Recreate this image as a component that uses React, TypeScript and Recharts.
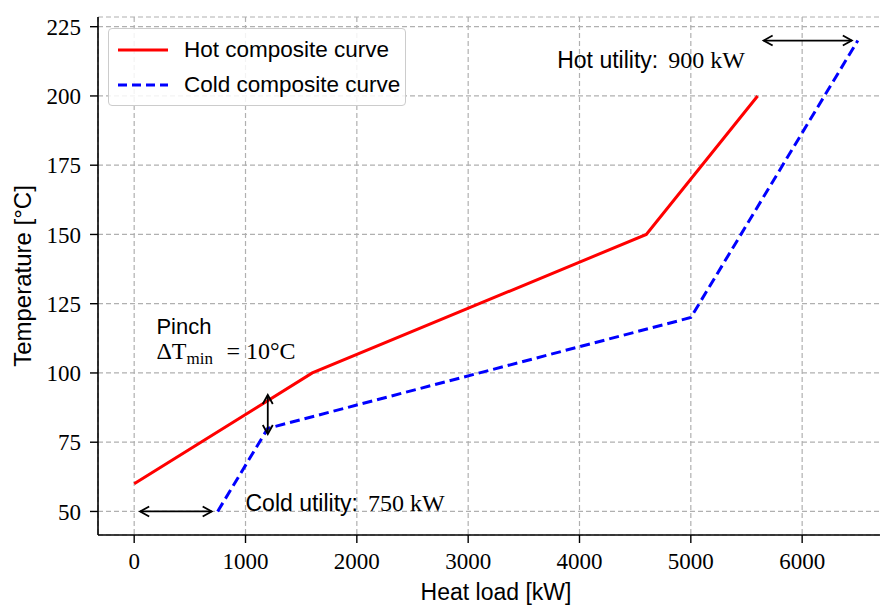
import React from 'react';
import { LineChart, Line, XAxis, YAxis, CartesianGrid, Legend, ReferenceLine, ReferenceDot } from 'recharts';

// composite curves (heat load kW, temperature °C)
const hotLoad = [0, 1600, 4600, 5600];
const hotTemp = [60, 100, 150, 200];
const coldLoad = [750, 1200, 5000, 6500];
const coldTemp = [50, 80, 120, 220];

const xTicks = [0, 1000, 2000, 3000, 4000, 5000, 6000];
const yTicks = [50, 75, 100, 125, 150, 175, 200, 225];

// annotations
const hotUtilityLoad = [5600, 6500];
const hotUtilityTemp = 220;
const coldUtilityLoad = [0, 750];
const coldUtilityTemp = 50;
const pinchLoad = 1200;
const pinchTemp = [76.5, 93.5];

const hotData = hotLoad.map((load, i) => ({ load, temp: hotTemp[i] }));
const coldData = coldLoad.map((load, i) => ({ load, temp: coldTemp[i] }));

const SERIF = '"Liberation Serif", "DejaVu Serif", serif';
const SANS = '"Liberation Sans", Arial, sans-serif';

function Arrow(props: any) {
  const { x1, y1, x2, y2 } = props;
  const shrink = props.shrink ?? 5;
  const dx = x2 - x1;
  const dy = y2 - y1;
  const len = Math.sqrt(dx * dx + dy * dy) || 1;
  const ux = dx / len;
  const uy = dy / len;
  const ax = x1 + ux * shrink, ay = y1 + uy * shrink;
  const bx = x2 - ux * shrink, by = y2 - uy * shrink;
  const hl = 9, hw = 5;
  const px = -uy, py = ux;
  const headA = `M${ax + ux * hl + px * hw},${ay + uy * hl + py * hw} L${ax},${ay} L${ax + ux * hl - px * hw},${ay + uy * hl - py * hw}`;
  const headB = `M${bx - ux * hl + px * hw},${by - uy * hl + py * hw} L${bx},${by} L${bx - ux * hl - px * hw},${by - uy * hl - py * hw}`;
  return (
    <g>
      <line x1={ax} y1={ay} x2={bx} y2={by} stroke="#000" strokeWidth={1.8} />
      <path d={headA} fill="none" stroke="#000" strokeWidth={1.8} />
      <path d={headB} fill="none" stroke="#000" strokeWidth={1.8} />
    </g>
  );
}

function LegendBox() {
  const row = (top: number, color: string, dash: string | undefined, text: string) => (
    <div style={{ position: 'absolute', left: 0, top: top - 14, height: 28, width: 296 }}>
      <svg width={70} height={28} style={{ position: 'absolute', left: 0, top: 0 }}>
        <line x1={9} y1={14} x2={59} y2={14} stroke={color} strokeWidth={3} strokeDasharray={dash} />
      </svg>
      <span style={{ position: 'absolute', left: 75, top: 0, fontFamily: SANS, fontSize: 22.5, color: '#000', whiteSpace: 'nowrap', lineHeight: '28px' }}>
        {text}
      </span>
    </div>
  );
  return (
    <div style={{ position: 'relative', width: 298, height: 78, boxSizing: 'border-box', border: '1.5px solid #cccccc', borderRadius: 4, background: 'rgba(255,255,255,0.85)' }}>
      {row(21, '#ff0000', undefined, 'Hot composite curve')}
      {row(56, '#0000ff', '9 5', 'Cold composite curve')}
    </div>
  );
}

export default function App() {
  return (
    <div style={{ position: 'absolute', left: 0, top: 0, width: 880, height: 606, overflow: 'hidden', background: '#fff' }}>
      <LineChart width={900} height={606} margin={{ top: 17, right: 6, bottom: 0, left: 0 }}>
        <CartesianGrid stroke="#b0b0b0" strokeDasharray="5 3" strokeWidth={1.2} />
        <XAxis
          type="number"
          dataKey="load"
          domain={[-325, 6825]}
          ticks={xTicks}
          allowDataOverflow
          height={71}
          tickSize={8}
          tickMargin={10}
          axisLine={{ stroke: '#000', strokeWidth: 1.6 }}
          tickLine={{ stroke: '#000', strokeWidth: 1.4 }}
          tick={{ fill: '#000', fontSize: 23, fontFamily: SERIF }}
          label={{ value: 'Heat load [kW]', position: 'insideBottom', offset: 6, fill: '#000', fontSize: 23, fontFamily: SANS }}
        />
        <XAxis
          xAxisId="top"
          orientation="top"
          type="number"
          domain={[-325, 6825]}
          height={0}
          tick={false}
          tickLine={false}
          axisLine={{ stroke: '#000', strokeWidth: 1.6 }}
        />
        <YAxis
          type="number"
          domain={[41.5, 228.5]}
          ticks={yTicks}
          allowDataOverflow
          width={98}
          tickSize={8}
          tickMargin={9}
          axisLine={{ stroke: '#000', strokeWidth: 1.6 }}
          tickLine={{ stroke: '#000', strokeWidth: 1.4 }}
          tick={{ fill: '#000', fontSize: 23, fontFamily: SERIF }}
          label={{ value: 'Temperature [°C]', angle: -90, position: 'insideLeft', offset: 22, fill: '#000', fontSize: 24, fontFamily: SANS, style: { textAnchor: 'middle' } }}
        />
        <Legend
          layout="vertical"
          align="center"
          verticalAlign="middle"
          wrapperStyle={{ left: 108, top: 28, width: 298, height: 78 }}
          content={() => <LegendBox />}
        />
        <Line
          data={hotData}
          dataKey="temp"
          name="Hot composite curve"
          stroke="#ff0000"
          strokeWidth={3}
          dot={false}
          isAnimationActive={false}
        />
        <Line
          data={coldData}
          dataKey="temp"
          name="Cold composite curve"
          stroke="#0000ff"
          strokeWidth={3}
          strokeDasharray="10 5"
          dot={false}
          isAnimationActive={false}
        />
        <ReferenceLine
          segment={[{ x: hotUtilityLoad[0], y: hotUtilityTemp }, { x: hotUtilityLoad[1], y: hotUtilityTemp }]}
          shape={(p: any) => <Arrow {...p} shrink={6} />}
        />
        <ReferenceLine
          segment={[{ x: coldUtilityLoad[0], y: coldUtilityTemp }, { x: coldUtilityLoad[1], y: coldUtilityTemp }]}
          shape={(p: any) => <Arrow {...p} shrink={6} />}
        />
        <ReferenceLine
          segment={[{ x: pinchLoad, y: pinchTemp[0] }, { x: pinchLoad, y: pinchTemp[1] }]}
          shape={(p: any) => <Arrow {...p} shrink={4} />}
        />
        <ReferenceDot
          x={3800}
          y={210}
          r={0}
          shape={(p: any) => (
            <text x={p.cx} y={p.cy} fill="#000">
              <tspan fontFamily={SANS} fontSize={23}>Hot utility:</tspan>
              <tspan fontFamily={SERIF} fontSize={24} dx={10}>900 kW</tspan>
            </text>
          )}
        />
        <ReferenceDot
          x={1000}
          y={50}
          r={0}
          shape={(p: any) => (
            <text x={p.cx} y={p.cy} fill="#000">
              <tspan fontFamily={SANS} fontSize={23}>Cold utility:</tspan>
              <tspan fontFamily={SERIF} fontSize={24} dx={10}>750 kW</tspan>
            </text>
          )}
        />
        <ReferenceDot
          x={200}
          y={105}
          r={0}
          shape={(p: any) => (
            <g>
              <text x={p.cx} y={p.cy - 25} fill="#000" fontSize={22} fontFamily={SANS}>Pinch</text>
              <text x={p.cx} y={p.cy} fill="#000" fontSize={24} fontFamily={SERIF}>ΔT</text>
              <text x={p.cx + 30} y={p.cy + 5} fill="#000" fontSize={17} fontFamily={SERIF}>min</text>
              <text x={p.cx + 70} y={p.cy} fill="#000" fontSize={24} fontFamily={SERIF}>= 10°C</text>
            </g>
          )}
        />
      </LineChart>
    </div>
  );
}
